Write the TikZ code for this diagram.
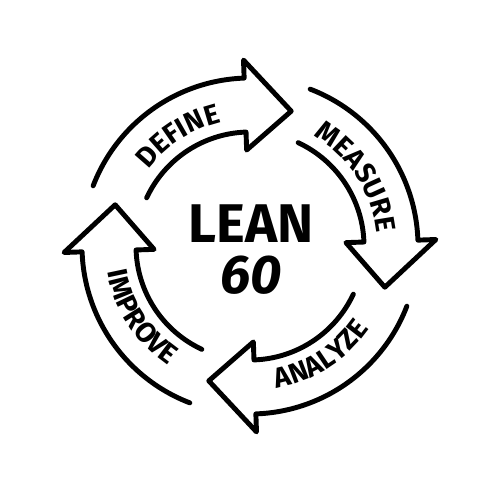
\documentclass[tikz,border=0pt]{standalone}
\usepackage{fontspec}
\setmainfont{Fira Sans}
\usetikzlibrary{decorations.text}

\newcommand{\stagefont}{\fontsize{16}{16}\selectfont\bfseries}
% one hollow arrow, #1 = angle of the base of its head
\newcommand{\stagearrow}[1]{%
  \draw[stage] ({#1+67}:168) arc[start angle={#1+67}, end angle={#1}, radius=168]
    -- ({#1}:186) -- ({#1-19}:141) -- ({#1}:96) -- ({#1}:114)
    arc[start angle={#1}, end angle={#1+63}, radius=114];}
% label on an upper arrow (read clockwise)
\newcommand{\uplabel}[2]{%
  \path[decorate, decoration={text along path, text align=center, text={|\stagefont|#2}}]
    ({#1+61}:127) arc[start angle={#1+61}, end angle={#1+1}, radius=127];}
% label on a lower arrow (read counter-clockwise)
\newcommand{\downlabel}[2]{%
  \path[decorate, decoration={text along path, text align=center, text={|\stagefont|#2}}]
    ({#1+1}:145) arc[start angle={#1+1}, end angle={#1+61}, radius=145];}

\begin{document}
\begin{tikzpicture}[scale=0.02,
    stage/.style={line width=2.8pt, line cap=round, line join=round},
    title/.style={font=\fontsize{31}{31}\selectfont\bfseries, inner sep=0pt}]
  \useasboundingbox (-250,-254) rectangle (250,246);
  \stagearrow{92}% define
  \stagearrow{2}% measure
  \stagearrow{-88}% analyze
  \stagearrow{-178}% improve
  \uplabel{92}{DEFINE}
  \uplabel{2}{MEASURE}
  \downlabel{-88}{ANALYZE}
  \downlabel{-178}{IMPROVE}
  \node[title] (lean) at (1,22) {LEAN};
  \node[title] (sixty) at (1,-29) {\itshape 60};
\end{tikzpicture}
\end{document}
